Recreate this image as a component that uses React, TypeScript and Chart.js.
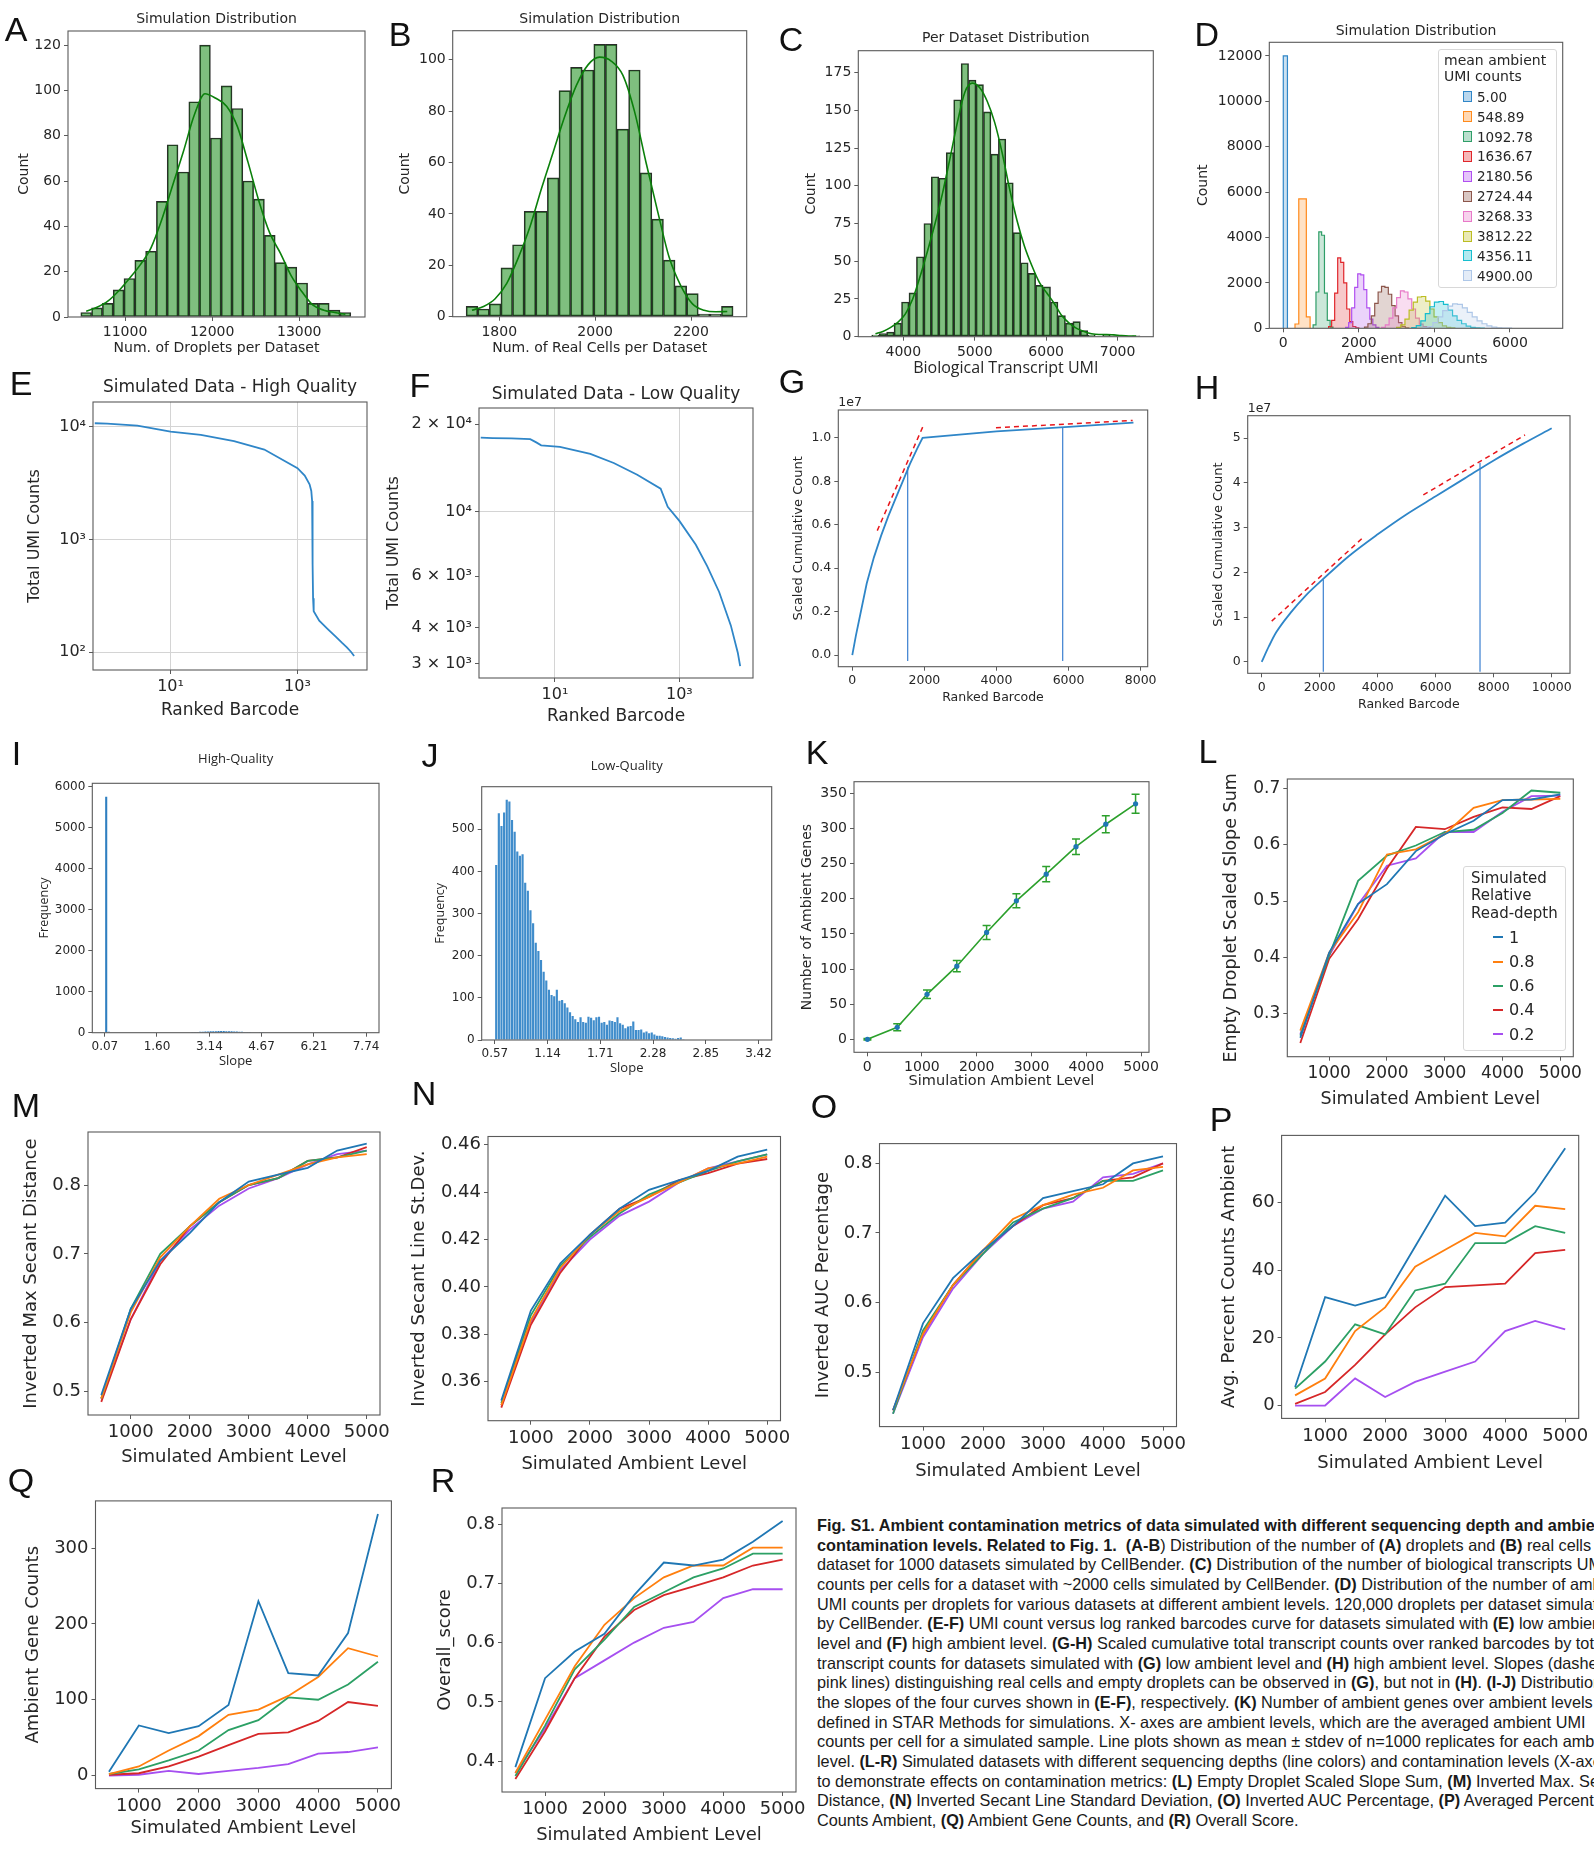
import React, { useEffect, useRef } from 'react';
import { Chart, registerables } from 'chart.js';

Chart.register(...registerables);

const DJ = "'DejaVu Sans', 'Liberation Sans', sans-serif";
const OS = "'Open Sans', 'DejaVu Sans', sans-serif";
const TEXT = '#262626';
const FRAME = '#5a5a5a';
Chart.defaults.font.family = DJ;
Chart.defaults.color = TEXT;

// ---------------- A ----------------
const aBinStart = 10492;
const aBinWidth = 124;
const aCounts = [2, 4, 6, 12, 17, 25, 29, 51, 76, 64, 95, 120, 79, 102, 92, 60, 52, 36, 24, 22, 15, 6, 6, 3, 2];
const aKde = [2.5, 4.3, 7, 11.5, 17, 23, 30.5, 43, 58, 73, 89, 98.5, 96.5, 93, 84, 68, 51, 37, 28, 18, 11, 5.2, 3, 2, 1.2];
const aXTicks = [11000, 12000, 13000];
const aYTicks = [0, 20, 40, 60, 80, 100, 120];

// ---------------- B ----------------
const bBinStart = 1731;
const bBinWidth = 24.2;
const bCounts = [4, 3, 5, 19, 28, 41, 41, 54, 88, 97, 96, 106, 106, 73, 96, 56, 38, 22, 12, 9, 1, 1, 4];
const bKde = [2.5, 4, 7, 13, 23, 35, 50, 64, 78, 90, 98, 101, 99.5, 94, 80, 60, 41, 23, 12, 5, 2.5, 1.9, 2];
const bXTicks = [1800, 2000, 2200];
const bYTicks = [0, 20, 40, 60, 80, 100];

// ---------------- C ----------------
const cBinStart = 3558;
const cBinWidth = 104.3;
const cCounts = [1, 2, 3, 9, 23, 29, 53, 75, 106, 105, 122, 157, 181, 170, 167, 149, 121, 131, 102, 69, 49, 42, 34, 33, 23, 14, 9, 10, 4, 1, 0, 1, 0.5, 0, 0, 0.5];
const cKde = [2, 3.5, 6, 9.5, 15, 25, 40, 57, 75, 95, 118, 142, 162, 168, 165, 156, 142, 122, 98, 77, 60, 47, 36, 29, 22, 14, 9, 5.5, 3.5, 2, 1.5, 1.5, 1.2, 0.8, 0.5, 0.4];
const cXTicks = [4000, 5000, 6000, 7000];
const cYTicks = [0, 25, 50, 75, 100, 125, 150, 175];

// ---------------- D ----------------
const dLevels = ['5.00', '548.89', '1092.78', '1636.67', '2180.56', '2724.44', '3268.33', '3812.22', '4356.11', '4900.00'];
const dColors = ['#2f86c8', '#ff8a1c', '#2f9e68', '#e0262b', '#b04ff0', '#8c564b', '#e879c8', '#bcbd22', '#17becf', '#aec7e8'];
const dBinStart = [0, 310, 790, 1200, 1650, 2150, 2600, 3000, 3400, 3700];
const dBinWidth = [110, 100, 75, 80, 80, 90, 100, 110, 120, 130];
const dCounts = [
  [12000],
  [190, 5700, 5700, 500],
  [150, 1600, 4250, 4100, 1550, 350, 50],
  [80, 350, 1550, 3100, 2900, 2000, 850, 300, 80, 20],
  [40, 250, 900, 1800, 2400, 2350, 1700, 900, 400, 150, 40],
  [50, 200, 550, 1100, 1600, 1850, 1800, 1500, 1000, 550, 250, 80, 20],
  [40, 150, 450, 900, 1350, 1650, 1600, 1300, 850, 450, 180, 70, 25],
  [40, 150, 400, 800, 1150, 1380, 1400, 1200, 850, 500, 250, 110, 45, 15],
  [30, 120, 330, 650, 950, 1150, 1180, 1050, 800, 550, 350, 200, 100, 45, 20, 8],
  [20, 80, 250, 500, 780, 980, 1080, 1050, 900, 700, 500, 330, 200, 110, 55, 25, 10, 4],
];
const dXTicks = [0, 2000, 4000, 6000];
const dYTicks = [0, 2000, 4000, 6000, 8000, 10000, 12000];

// ---------------- E ----------------
const eRank = [0.64, 1, 3, 10, 30, 100, 300, 1000, 1300, 1550, 1650, 1700, 1720, 1740, 1760, 1800, 2200, 3000, 4000, 5000, 6000, 7000, 7800];
const eUmi = [10800, 10700, 10300, 9100, 8500, 7500, 6300, 4300, 3700, 3100, 2700, 2200, 1400, 600, 300, 230, 190, 160, 137, 121, 110, 100, 92];
const eXTicks = [10, 1000];
const eYTicks = [100, 1000, 10000];

// ---------------- F ----------------
const fRank = [0.64, 1, 2, 4, 5, 6, 12, 37, 88, 210, 500, 650, 1000, 1840, 2800, 4360, 6720, 8700, 9500];
const fUmi = [17950, 17900, 17850, 17750, 17300, 16900, 16700, 15800, 14700, 13400, 12000, 10400, 9300, 7700, 6500, 5300, 4070, 3280, 2950];
const fXTicks = [10, 1000];
const fYTicks = [3000, 4000, 6000, 10000, 20000];

const supLabels: Record<number, string> = {
  10: '10\u00b9', 100: '10\u00b2', 1000: '10\u00b3', 10000: '10\u2074',
  3000: '3 \u00d7 10\u00b3', 4000: '4 \u00d7 10\u00b3', 6000: '6 \u00d7 10\u00b3', 20000: '2 \u00d7 10\u2074',
};

// ---------------- G ----------------
const gRank = [0, 100, 200, 400, 600, 800, 1000, 1200, 1400, 1600, 1800, 1950, 4000, 6000, 7800];
const gCum = [0, 0.09, 0.17, 0.33, 0.45, 0.55, 0.64, 0.72, 0.8, 0.88, 0.95, 1.0, 1.03, 1.05, 1.07];
const gCutX = [1537, 5837];
const gCutTop = [0.867, 1.05];
const gCutBottom = -0.027;
const gSlope1X = [693, 1989];
const gSlope1Y = [0.573, 1.063];
const gSlope2X = [3986, 7778];
const gSlope2Y = [1.046, 1.08];
const gXTicks = [0, 2000, 4000, 6000, 8000];
const gYTicks = [0, 0.2, 0.4, 0.6, 0.8, 1.0];

// ---------------- H ----------------
const hRank = [0, 250, 500, 1000, 1500, 2000, 3000, 4000, 5000, 6000, 7000, 8000, 9000, 10000];
const hCum = [0, 0.35, 0.66, 1.1, 1.47, 1.78, 2.36, 2.85, 3.3, 3.7, 4.1, 4.5, 4.87, 5.22];
const hCutX = [2124, 7528];
const hCutTop = [1.84, 4.45];
const hCutBottom = -0.22;
const hSlope1X = [345, 3448];
const hSlope1Y = [0.91, 2.75];
const hSlope2X = [5573, 9080];
const hSlope2Y = [3.73, 5.07];
const hXTicks = [0, 2000, 4000, 6000, 8000, 10000];
const hYTicks = [0, 1, 2, 3, 4, 5];

// ---------------- I ----------------
const iBinStart = 0.07;
const iBinWidth = 0.0767;
const iCounts = [
  5750, 25, 0, 0, 0, 0, 0, 0, 0, 0, 0, 0, 0, 0, 0, 0, 0, 0, 0, 0,
  0, 0, 0, 0, 0, 0, 0, 0, 0, 0, 8, 10, 12, 15, 18, 20, 22, 25, 28, 30,
  33, 35, 38, 40, 42, 40, 38, 35, 33, 30, 28, 25, 22, 20, 18, 15, 12, 10, 8, 6,
  4, 0, 0, 0, 0, 0, 0, 0, 0, 0, 0, 0, 0, 0, 0, 0, 0, 0, 0, 0,
  0, 0, 0, 0, 0, 0, 0, 0, 0, 0, 0, 0, 0, 0, 0, 0, 0, 0, 0, 0,
];
const iXTicks = [0.07, 1.6, 3.14, 4.67, 6.21, 7.74];
const iYTicks = [0, 1000, 2000, 3000, 4000, 5000, 6000];

// ---------------- J ----------------
const jBinStart = 0.57;
const jBinWidth = 0.0285;
const jCounts = [
  415, 538, 508, 540, 570, 566, 522, 494, 447, 437, 441, 373, 354, 308, 277, 231, 211, 190, 162, 141,
  119, 107, 104, 119, 93, 95, 87, 77, 66, 57, 49, 43, 54, 43, 41, 55, 53, 47, 54, 55,
  41, 43, 36, 46, 45, 43, 54, 40, 36, 28, 32, 33, 44, 24, 24, 25, 18, 20, 16, 18,
  13, 10, 10, 9, 7, 6, 5, 4, 3, 5, 6, 2, 1, 1, 1, 0, 1, 0, 0, 1,
  0, 0, 0, 0, 0, 0, 0, 0, 0, 0, 0, 0, 0, 0, 0, 0, 0, 0, 0, 0,
];
const jXTicks = [0.57, 1.14, 1.71, 2.28, 2.85, 3.42];
const jYTicks = [0, 100, 200, 300, 400, 500];

// ---------------- K ----------------
const kLevels = [5, 548.89, 1092.78, 1636.67, 2180.56, 2724.44, 3268.33, 3812.22, 4356.11, 4900];
const kMean = [0, 17, 64, 104, 152, 197, 235, 274, 306, 335];
const kSd = [1, 5, 6, 8, 10, 10, 11, 11, 12, 13.5];
const kXTicks = [0, 1000, 2000, 3000, 4000, 5000];
const kYTicks = [0, 50, 100, 150, 200, 250, 300, 350];

// ---------------- L-R ----------------
const depthLabels = ['1', '0.8', '0.6', '0.4', '0.2'];
const depthColors = ['#1f77b4', '#ff7f0e', '#2ca065', '#d62728', '#a64ff0'];
const ambientX = [500, 1000, 1500, 2000, 2500, 3000, 3500, 4000, 4500, 5000];
const depthXTicks = [1000, 2000, 3000, 4000, 5000];

const lSeries = [
  [0.256, 0.408, 0.495, 0.53, 0.589, 0.619, 0.643, 0.68, 0.681, 0.69],
  [0.269, 0.408, 0.48, 0.583, 0.592, 0.619, 0.666, 0.68, 0.681, 0.682],
  [0.26, 0.403, 0.536, 0.581, 0.599, 0.623, 0.627, 0.657, 0.697, 0.693],
  [0.247, 0.397, 0.468, 0.558, 0.632, 0.628, 0.65, 0.667, 0.664, 0.687],
  [0.263, 0.403, 0.494, 0.563, 0.576, 0.623, 0.623, 0.659, 0.687, 0.688],
];
const lYTicks = [0.3, 0.4, 0.5, 0.6, 0.7];

const mSeries = [
  [0.495, 0.62, 0.69, 0.73, 0.775, 0.805, 0.815, 0.825, 0.85, 0.86],
  [0.49, 0.615, 0.695, 0.74, 0.78, 0.8, 0.815, 0.83, 0.84, 0.845],
  [0.49, 0.62, 0.7, 0.74, 0.775, 0.8, 0.81, 0.835, 0.84, 0.85],
  [0.485, 0.605, 0.685, 0.74, 0.775, 0.8, 0.81, 0.835, 0.84, 0.855],
  [0.49, 0.605, 0.69, 0.735, 0.77, 0.795, 0.81, 0.83, 0.845, 0.85],
];
const mYTicks = [0.5, 0.6, 0.7, 0.8];

const nSeries = [
  [0.352, 0.39, 0.41, 0.422, 0.433, 0.441, 0.445, 0.449, 0.455, 0.458],
  [0.35, 0.386, 0.408, 0.422, 0.432, 0.438, 0.444, 0.45, 0.452, 0.455],
  [0.351, 0.388, 0.409, 0.421, 0.431, 0.439, 0.444, 0.449, 0.453, 0.456],
  [0.349, 0.384, 0.406, 0.422, 0.433, 0.438, 0.445, 0.448, 0.452, 0.454],
  [0.35, 0.385, 0.407, 0.42, 0.43, 0.436, 0.444, 0.45, 0.453, 0.456],
];
const nYTicks = [0.36, 0.38, 0.4, 0.42, 0.44, 0.46];

const oSeries = [
  [0.445, 0.57, 0.635, 0.675, 0.71, 0.75, 0.76, 0.77, 0.8, 0.81],
  [0.445, 0.555, 0.625, 0.675, 0.72, 0.74, 0.755, 0.765, 0.79, 0.795],
  [0.44, 0.56, 0.625, 0.67, 0.715, 0.735, 0.75, 0.775, 0.775, 0.79],
  [0.445, 0.555, 0.625, 0.675, 0.71, 0.74, 0.75, 0.775, 0.78, 0.8],
  [0.44, 0.55, 0.62, 0.67, 0.71, 0.735, 0.745, 0.78, 0.785, 0.8],
];
const oYTicks = [0.5, 0.6, 0.7, 0.8];

const pSeries = [
  [5.5, 32, 29.5, 32, 47, 62, 53, 54, 63, 76],
  [3, 8, 22, 29, 41, 46, 51, 50, 59, 58],
  [5, 13, 24, 21, 34, 36, 48, 48, 53, 51],
  [0.5, 4, 12, 21, 29, 35, 35.5, 36, 45, 46],
  [0, 0, 8, 2.5, 7, 10, 13, 22, 25, 22.5],
];
const pYTicks = [0, 20, 40, 60];

const qSeries = [
  [5, 66, 56, 65, 93, 230, 135, 132, 188, 345],
  [2, 12, 33, 52, 80, 87, 105, 130, 168, 157],
  [2, 8, 20, 33, 60, 73, 103, 100, 120, 150],
  [1, 3, 12, 25, 40, 55, 57, 72, 97, 92],
  [0, 1, 6, 2, 6, 10, 15, 29, 31, 37],
];
const qYTicks = [0, 100, 200, 300];

const rSeries = [
  [0.39, 0.54, 0.585, 0.615, 0.68, 0.735, 0.73, 0.74, 0.77, 0.805],
  [0.38, 0.47, 0.56, 0.63, 0.675, 0.71, 0.73, 0.73, 0.76, 0.76],
  [0.375, 0.46, 0.555, 0.605, 0.66, 0.685, 0.71, 0.725, 0.75, 0.75],
  [0.37, 0.45, 0.54, 0.61, 0.655, 0.68, 0.695, 0.71, 0.73, 0.74],
  [0.38, 0.455, 0.54, 0.57, 0.6, 0.625, 0.635, 0.675, 0.69, 0.69],
];
const rYTicks = [0.4, 0.5, 0.6, 0.7, 0.8];

// ---------------- dataset helpers ----------------
const HIST_FILL = 'rgba(0,128,0,0.5)';
const HIST_EDGE = '#2b2b2b';

function histBars(start: number, width: number, counts: number[], color: string, edge: string, edgeW: number, barPct = 1) {
  return {
    type: 'bar', order: 2,
    data: counts.map((c, i) => ({ x: start + width * (i + 0.5), y: c })),
    backgroundColor: color, borderColor: edge, borderWidth: edgeW, borderSkipped: false,
    barPercentage: barPct, categoryPercentage: 1, grouped: false,
  };
}
function kdeLine(start: number, width: number, vals: number[]) {
  return {
    type: 'line', order: 0,
    data: vals.map((v, i) => ({ x: start + width * (i + 0.5), y: v })),
    borderColor: '#0b800b', borderWidth: 1.6, pointRadius: 0, cubicInterpolationMode: 'monotone', fill: false,
  };
}
function xyLine(xs: number[], ys: number[], color: string, width: number, extra: any = {}) {
  return {
    type: 'line', order: 1,
    data: xs.map((x, i) => ({ x, y: ys[i] })),
    borderColor: color, borderWidth: width, pointRadius: 0, fill: false, tension: 0, ...extra,
  };
}
function stepHist(start: number, width: number, counts: number[], color: string) {
  const pts: { x: number; y: number }[] = [{ x: start, y: 0 }];
  counts.forEach((c, i) => pts.push({ x: start + width * i, y: c }));
  pts.push({ x: start + width * counts.length, y: 0 });
  return {
    type: 'line', data: pts, stepped: 'before', borderColor: color, borderWidth: 1.2,
    backgroundColor: color + '40', fill: 'origin', pointRadius: 0,
  };
}

// ---------------- plugins ----------------
const framePlugin = {
  id: 'frame',
  afterDatasetsDraw(chart: any) {
    const { ctx, chartArea: a } = chart;
    ctx.save();
    ctx.strokeStyle = FRAME;
    ctx.lineWidth = 1.1;
    ctx.strokeRect(a.left, a.top, a.right - a.left, a.bottom - a.top);
    ctx.restore();
  },
};
const panelTitlePlugin = {
  id: 'panelTitle',
  afterDraw(chart: any, _args: any, opts: any) {
    if (!opts || !opts.text) return;
    const { ctx, chartArea: a } = chart;
    ctx.save();
    ctx.fillStyle = TEXT;
    ctx.font = `${opts.size}px ${opts.family || DJ}`;
    ctx.textAlign = 'center';
    ctx.textBaseline = 'middle';
    ctx.fillText(opts.text, (a.left + a.right) / 2, opts.cy);
    ctx.restore();
  },
};
const offsetTextPlugin = {
  id: 'offsetText',
  afterDraw(chart: any, _args: any, opts: any) {
    if (!opts || !opts.text) return;
    const { ctx, chartArea: a } = chart;
    ctx.save();
    ctx.fillStyle = TEXT;
    ctx.font = `12.5px ${DJ}`;
    ctx.textAlign = 'left';
    ctx.textBaseline = 'bottom';
    ctx.fillText(opts.text, a.left, a.top - 1);
    ctx.restore();
  },
};
const errorBarPlugin = {
  id: 'errbars',
  beforeDatasetsDraw(chart: any, _args: any, opts: any) {
    if (!opts || !opts.xs) return;
    const { ctx, scales } = chart;
    const xs = scales.x, ys = scales.y;
    ctx.save();
    ctx.strokeStyle = opts.color;
    ctx.lineWidth = 1.5;
    opts.xs.forEach((xv: number, i: number) => {
      const px = xs.getPixelForValue(xv);
      const t = ys.getPixelForValue(opts.means[i] + opts.sds[i]);
      const b = ys.getPixelForValue(opts.means[i] - opts.sds[i]);
      ctx.beginPath();
      ctx.moveTo(px, t); ctx.lineTo(px, b);
      ctx.moveTo(px - 4, t); ctx.lineTo(px + 4, t);
      ctx.moveTo(px - 4, b); ctx.lineTo(px + 4, b);
      ctx.stroke();
    });
    ctx.restore();
  },
};

// ---------------- panel specification ----------------
type Axis = {
  type?: string; min: number; max: number; ticks: number[];
  fmt?: (v: number) => string; size: number; family?: string;
  title: string; titlePos: number; titleSize: number; titleFamily?: string;
  grid?: boolean; gridColor?: any;
};
type Spec = {
  key: string; kind: string; box: number[]; x: Axis; y: Axis;
  title?: { text: string; y: number; size: number; family?: string };
  topPad?: number; rightPad?: number; datasets: any[]; plugins?: any[]; pluginOpts?: any;
};

function geometry(s: Spec) {
  const [x0, y0, x1, y1] = s.box;
  const left = Math.floor(s.y.titlePos - s.y.titleSize * 0.6 - 3);
  const bottom = Math.ceil(s.x.titlePos + s.x.titleSize * 0.6 + 3);
  const top = Math.floor(s.title ? s.title.y - s.title.size * 0.6 - 4 : y0 - (s.topPad ?? 14));
  const right = Math.min(1594, Math.ceil(x1 + (s.rightPad ?? 30)));
  return { left, top, bottom, right, W: right - left, H: bottom - top, padTop: y0 - top, padRight: right - x1, yAxisW: x0 - left, xAxisH: bottom - y1 };
}

function makeConfig(s: Spec) {
  const g = geometry(s);
  const scale = (a: Axis, isX: boolean) => {
    const lh = a.titleSize * 1.2;
    return {
      type: a.type || 'linear', min: a.min, max: a.max, offset: false,
      afterBuildTicks: (ax: any) => { ax.ticks = a.ticks.map((v) => ({ value: v })); },
      afterFit: (ax: any) => { if (isX) ax.height = g.xAxisH; else ax.width = g.yAxisW; },
      ticks: {
        autoSkip: false, maxRotation: 0, minRotation: 0, padding: 3, color: TEXT,
        font: { size: a.size, family: a.family || DJ },
        callback: (v: any) => (a.fmt ? a.fmt(Number(v)) : String(v)),
      },
      grid: { display: true, drawOnChartArea: !!a.grid, color: a.gridColor || '#d4d4d4', tickColor: FRAME, tickLength: 4, offset: false },
      border: { display: false },
      title: {
        display: true, text: a.title, color: TEXT,
        font: { size: a.titleSize, family: a.titleFamily || DJ, lineHeight: 1.2 },
        padding: isX ? { top: 0, bottom: g.bottom - a.titlePos - lh / 2 } : { top: a.titlePos - g.left - lh / 2, bottom: 0 },
      },
    };
  };
  return {
    type: s.kind,
    data: { datasets: s.datasets },
    options: {
      responsive: false, animation: false, events: [],
      layout: { padding: { top: g.padTop, right: g.padRight, left: 0, bottom: 0 } },
      plugins: {
        legend: { display: false }, tooltip: { enabled: false },
        panelTitle: s.title ? { ...s.title, cy: s.title.y - g.top } : {},
        ...(s.pluginOpts || {}),
      },
      scales: { x: scale(s.x, true), y: scale(s.y, false) },
    },
    plugins: [framePlugin, panelTitlePlugin, ...(s.plugins || [])],
  };
}

function ChartPanel({ spec }: { spec: Spec }) {
  const ref = useRef<HTMLCanvasElement | null>(null);
  const g = geometry(spec);
  useEffect(() => {
    const chart = new Chart(ref.current as any, makeConfig(spec) as any);
    return () => chart.destroy();
  }, []);
  return (
    <canvas ref={ref} width={g.W} height={g.H}
      style={{ position: 'absolute', left: g.left, top: g.top, width: g.W, height: g.H }} />
  );
}

const f1 = (v: number) => v.toFixed(1);
const f2 = (v: number) => v.toFixed(2);
const sup = (v: number) => supLabels[v] ?? String(v);

function depthPanel(key: string, box: number[], yMin: number, yMax: number, yTicks: number[], fmt: any,
  yTitle: string, yTitlePos: number, xTitlePos: number, series: number[][], tick = 18, ttl = 18, rightPad = 26): Spec {
  return {
    key, kind: 'line', box,
    x: { min: 275, max: 5225, ticks: depthXTicks, size: tick, title: 'Simulated Ambient Level', titlePos: xTitlePos, titleSize: ttl },
    y: { min: yMin, max: yMax, ticks: yTicks, fmt, size: tick, title: yTitle, titlePos: yTitlePos, titleSize: ttl },
    rightPad,
    datasets: series.map((ys, i) => xyLine(ambientX, ys, depthColors[i], 1.8)),
  };
}

const specs: Spec[] = [
  {
    key: 'A', kind: 'bar', box: [68, 31, 365, 317],
    x: { min: 10345, max: 13755, ticks: aXTicks, size: 14, title: 'Num. of Droplets per Dataset', titlePos: 348, titleSize: 14 },
    y: { min: 0, max: 126.2, ticks: aYTicks, size: 14, title: 'Count', titlePos: 24, titleSize: 14 },
    title: { text: 'Simulation Distribution', y: 19, size: 14 },
    datasets: [kdeLine(aBinStart, aBinWidth, aKde), histBars(aBinStart, aBinWidth, aCounts, HIST_FILL, HIST_EDGE, 1)],
  },
  {
    key: 'B', kind: 'bar', box: [452.7, 30.7, 746.7, 316.7],
    x: { min: 1703, max: 2316, ticks: bXTicks, size: 14, title: 'Num. of Real Cells per Dataset', titlePos: 348, titleSize: 14 },
    y: { min: 0, max: 111.3, ticks: bYTicks, size: 14, title: 'Count', titlePos: 405, titleSize: 14 },
    title: { text: 'Simulation Distribution', y: 19, size: 14 },
    datasets: [kdeLine(bBinStart, bBinWidth, bKde), histBars(bBinStart, bBinWidth, bCounts, HIST_FILL, HIST_EDGE, 1)],
  },
  {
    key: 'C', kind: 'bar', box: [858.3, 50.7, 1153.3, 336.7],
    x: { min: 3370, max: 7500, ticks: cXTicks, size: 14, title: 'Biological Transcript UMI', titlePos: 368, titleSize: 16, titleFamily: OS },
    y: { min: 0, max: 189.5, ticks: cYTicks, size: 14, title: 'Count', titlePos: 811.7, titleSize: 14 },
    title: { text: 'Per Dataset Distribution', y: 38.7, size: 14 },
    datasets: [kdeLine(cBinStart, cBinWidth, cKde), histBars(cBinStart, cBinWidth, cCounts, HIST_FILL, HIST_EDGE, 1)],
  },
  {
    key: 'D', kind: 'line', box: [1269.3, 42.3, 1562.7, 328.3],
    x: { min: -370, max: 7395, ticks: dXTicks, size: 14, title: 'Ambient UMI Counts', titlePos: 359.3, titleSize: 14 },
    y: { min: 0, max: 12600, ticks: dYTicks, size: 14, title: 'Count', titlePos: 1203.3, titleSize: 14 },
    title: { text: 'Simulation Distribution', y: 31.7, size: 14 },
    rightPad: 28,
    datasets: dCounts.map((c, i) => stepHist(dBinStart[i], dBinWidth[i], c, dColors[i])).reverse(),
  },
  {
    key: 'E', kind: 'line', box: [93, 402, 367, 670],
    x: { type: 'logarithmic', min: 0.638, max: 12450, ticks: eXTicks, fmt: sup, size: 16, title: 'Ranked Barcode', titlePos: 711, titleSize: 17, grid: true },
    y: { type: 'logarithmic', min: 69.2, max: 16680, ticks: eYTicks, fmt: sup, size: 16, title: 'Total UMI Counts', titlePos: 35, titleSize: 16, grid: true },
    title: { text: 'Simulated Data - High Quality', y: 388, size: 17 },
    datasets: [xyLine(eRank, eUmi, '#2f86c8', 1.8)],
  },
  {
    key: 'F', kind: 'line', box: [479, 408, 753, 678],
    x: { type: 'logarithmic', min: 0.631, max: 15280, ticks: fXTicks, fmt: sup, size: 16, title: 'Ranked Barcode', titlePos: 717, titleSize: 17, grid: true },
    y: {
      type: 'logarithmic', min: 2685, max: 22700, ticks: fYTicks, fmt: sup, size: 16, title: 'Total UMI Counts', titlePos: 394, titleSize: 16, grid: true,
      gridColor: (ctx: any) => (ctx.tick && ctx.tick.value === 10000 ? '#d4d4d4' : 'rgba(0,0,0,0)'),
    },
    title: { text: 'Simulated Data - Low Quality', y: 395, size: 17 },
    datasets: [xyLine(fRank, fUmi, '#2f86c8', 1.8)],
  },
  {
    key: 'G', kind: 'line', box: [838.3, 410, 1147.7, 666.7],
    x: { min: -388, max: 8195, ticks: gXTicks, size: 12.5, title: 'Ranked Barcode', titlePos: 697.3, titleSize: 12.5 },
    y: { min: -0.053, max: 1.128, ticks: gYTicks, fmt: f1, size: 12.5, title: 'Scaled Cumulative Count', titlePos: 798.3, titleSize: 13 },
    topPad: 17,
    plugins: [offsetTextPlugin], pluginOpts: { offsetText: { text: '1e7' } },
    datasets: [
      xyLine(gRank, gCum, '#2f86c8', 1.8),
      xyLine([gCutX[0], gCutX[0]], [gCutBottom, gCutTop[0]], '#3a7fd0', 1.2),
      xyLine([gCutX[1], gCutX[1]], [gCutBottom, gCutTop[1]], '#3a7fd0', 1.2),
      xyLine(gSlope1X, gSlope1Y, '#e8161b', 1.5, { borderDash: [5, 4] }),
      xyLine(gSlope2X, gSlope2Y, '#e8161b', 1.5, { borderDash: [5, 4] }),
    ],
  },
  {
    key: 'H', kind: 'line', box: [1247.7, 415.7, 1570, 673.3],
    x: { min: -483, max: 10631, ticks: hXTicks, size: 12.5, title: 'Ranked Barcode', titlePos: 705, titleSize: 12.5 },
    y: { min: -0.255, max: 5.5, ticks: hYTicks, size: 12.5, title: 'Scaled Cumulative Count', titlePos: 1218.3, titleSize: 13 },
    topPad: 17, rightPad: 23,
    plugins: [offsetTextPlugin], pluginOpts: { offsetText: { text: '1e7' } },
    datasets: [
      xyLine(hRank, hCum, '#2f86c8', 1.8, { cubicInterpolationMode: 'monotone' }),
      xyLine([hCutX[0], hCutX[0]], [hCutBottom, hCutTop[0]], '#3a7fd0', 1.2),
      xyLine([hCutX[1], hCutX[1]], [hCutBottom, hCutTop[1]], '#3a7fd0', 1.2),
      xyLine(hSlope1X, hSlope1Y, '#e8161b', 1.5, { borderDash: [5, 4] }),
      xyLine(hSlope2X, hSlope2Y, '#e8161b', 1.5, { borderDash: [5, 4] }),
    ],
  },
  {
    key: 'I', kind: 'bar', box: [92.3, 783.3, 379, 1032.7],
    x: { min: -0.3, max: 8.12, ticks: iXTicks, fmt: f2, size: 12, title: 'Slope', titlePos: 1061.7, titleSize: 13, titleFamily: OS },
    y: { min: 0, max: 6080, ticks: iYTicks, size: 12, title: 'Frequency', titlePos: 44.3, titleSize: 12.5, titleFamily: OS },
    title: { text: 'High-Quality', y: 759.3, size: 13, family: OS },
    datasets: [histBars(iBinStart, iBinWidth, iCounts, '#2f7fc0', '#2f7fc0', 0, 0.8)],
  },
  {
    key: 'J', kind: 'bar', box: [481.7, 786.7, 771.7, 1040],
    x: { min: 0.4275, max: 3.5625, ticks: jXTicks, fmt: f2, size: 12, title: 'Slope', titlePos: 1068.3, titleSize: 13, titleFamily: OS },
    y: { min: 0, max: 601, ticks: jYTicks, size: 12, title: 'Frequency', titlePos: 440.7, titleSize: 12.5, titleFamily: OS },
    title: { text: 'Low-Quality', y: 766, size: 13, family: OS },
    datasets: [histBars(jBinStart, jBinWidth, jCounts, '#3f8ccb', '#3f8ccb', 0, 0.82)],
  },
  {
    key: 'K', kind: 'line', box: [854, 781.7, 1149, 1052.3],
    x: { min: -240, max: 5145, ticks: kXTicks, size: 14, title: 'Simulation Ambient Level', titlePos: 1081, titleSize: 14.5 },
    y: { min: -18.5, max: 366.5, ticks: kYTicks, size: 14, title: 'Number of Ambient Genes', titlePos: 807.3, titleSize: 14 },
    plugins: [errorBarPlugin], pluginOpts: { errbars: { xs: kLevels, means: kMean, sds: kSd, color: '#2ca02c' } },
    datasets: [xyLine(kLevels, kMean, '#2ca02c', 1.6, { pointRadius: 2.6, pointBackgroundColor: '#1f77b4', pointBorderColor: '#1f77b4', pointBorderWidth: 0 })],
  },
  depthPanel('L', [1287.3, 779, 1573.3, 1056.7], 0.2225, 0.7175, lYTicks, f1, 'Empty Droplet Scaled Slope Sum', 1231.7, 1099.3, lSeries, 17, 17.5, 20),
  depthPanel('M', [88, 1132, 380, 1415], 0.466, 0.877, mYTicks, f1, 'Inverted Max Secant Distance', 31.8, 1457, mSeries),
  depthPanel('N', [488, 1136.5, 780.5, 1420.7], 0.3435, 0.4635, nYTicks, f2, 'Inverted Secant Line St.Dev.', 419.7, 1464, nSeries),
  depthPanel('O', [879.5, 1143.6, 1176.5, 1426.6], 0.4215, 0.8285, oYTicks, f1, 'Inverted AUC Percentage', 823, 1471, oSeries),
  depthPanel('P', [1281.6, 1135.4, 1578.7, 1418.4], -3.8, 79.8, pYTicks, undefined, 'Avg. Percent Counts Ambient', 1229.7, 1463, pSeries, 18, 18, 15),
  depthPanel('Q', [95.5, 1500.9, 391.4, 1788.6], -17.25, 362.25, qYTicks, undefined, 'Ambient Gene Counts', 33, 1828.6, qSeries),
  depthPanel('R', [502, 1508, 796, 1792], 0.348, 0.827, rYTicks, f1, 'Overall_score', 445.7, 1835.7, rSeries, 18, 18, 20),
];

const panelLetters = [
  { t: 'A', x: 16, y: 29 }, { t: 'B', x: 400, y: 34 }, { t: 'C', x: 791, y: 39 }, { t: 'D', x: 1206.7, y: 34 },
  { t: 'E', x: 21, y: 383 }, { t: 'F', x: 420, y: 385 }, { t: 'G', x: 792, y: 381 }, { t: 'H', x: 1207, y: 387 },
  { t: 'I', x: 16.5, y: 753 }, { t: 'J', x: 430, y: 755 }, { t: 'K', x: 817, y: 752 }, { t: 'L', x: 1208, y: 751 },
  { t: 'M', x: 26, y: 1105 }, { t: 'N', x: 424, y: 1093 }, { t: 'O', x: 824, y: 1106 }, { t: 'P', x: 1221, y: 1119 },
  { t: 'Q', x: 21, y: 1480 }, { t: 'R', x: 443, y: 1480 },
];

const captionLines: React.ReactNode[] = [
  <><b>Fig. S1. Ambient contamination metrics of data simulated with different sequencing depth and ambient</b></>,
  <><b>contamination levels. Related to Fig. 1.</b>&nbsp; <b>(A-B</b>) Distribution of the number of <b>(A)</b> droplets and <b>(B)</b> real cells per</>,
  <>dataset for 1000 datasets simulated by CellBender. <b>(C)</b> Distribution of the number of biological transcripts UMI</>,
  <>counts per cells for a dataset with ~2000 cells simulated by CellBender. <b>(D)</b> Distribution of the number of ambient</>,
  <>UMI counts per droplets for various datasets at different ambient levels. 120,000 droplets per dataset simulated</>,
  <>by CellBender. <b>(E-F)</b> UMI count versus log ranked barcodes curve for datasets simulated with <b>(E)</b> low ambient</>,
  <>level and <b>(F)</b> high ambient level. <b>(G-H)</b> Scaled cumulative total transcript counts over ranked barcodes by total</>,
  <>transcript counts for datasets simulated with <b>(G)</b> low ambient level and <b>(H)</b> high ambient level. Slopes (dashed</>,
  <>pink lines) distinguishing real cells and empty droplets can be observed in <b>(G)</b>, but not in <b>(H)</b>. <b>(I-J)</b> Distribution of</>,
  <>the slopes of the four curves shown in <b>(E-F)</b>, respectively. <b>(K)</b> Number of ambient genes over ambient levels as</>,
  <>defined in STAR Methods for simulations. X- axes are ambient levels, which are the averaged ambient UMI</>,
  <>counts per cell for a simulated sample. Line plots shown as mean ± stdev of n=1000 replicates for each ambient</>,
  <>level. <b>(L-R)</b> Simulated datasets with different sequencing depths (line colors) and contamination levels (X-axes)</>,
  <>to demonstrate effects on contamination metrics: <b>(L)</b> Empty Droplet Scaled Slope Sum, <b>(M)</b> Inverted Max. Secant</>,
  <>Distance, <b>(N)</b> Inverted Secant Line Standard Deviation, <b>(O)</b> Inverted AUC Percentage, <b>(P)</b> Averaged Percent</>,
  <>Counts Ambient, <b>(Q)</b> Ambient Gene Counts, and <b>(R)</b> Overall Score.</>,
];

function LegendD() {
  return (
    <>
      <div style={{ position: 'absolute', left: 1438, top: 49, width: 117, height: 237, border: '1px solid #d8d8d8', borderRadius: 3, background: 'rgba(255,255,255,0.85)' }} />
      <div style={{ position: 'absolute', left: 1444, top: 53, font: `14px ${DJ}`, lineHeight: '15.7px', color: TEXT, whiteSpace: 'nowrap' }}>
        mean ambient<br />UMI counts
      </div>
      {dLevels.map((lv, i) => (
        <div key={lv} style={{ position: 'absolute', left: 1463, top: 96.7 + 19.9 * i - 9, height: 18, display: 'flex', alignItems: 'center', whiteSpace: 'nowrap' }}>
          <span style={{ display: 'inline-block', width: 7, height: 9, border: `1px solid ${dColors[i]}`, background: dColors[i] + '55', marginRight: 5 }} />
          <span style={{ font: `13.5px ${DJ}`, color: TEXT }}>{lv}</span>
        </div>
      ))}
    </>
  );
}

function LegendL() {
  return (
    <>
      <div style={{ position: 'absolute', left: 1463, top: 866, width: 101, height: 183, border: '1px solid #d8d8d8', borderRadius: 3, background: 'rgba(255,255,255,0.85)' }} />
      <div style={{ position: 'absolute', left: 1471, top: 869.5, font: `15px ${DJ}`, lineHeight: '17.5px', color: TEXT, whiteSpace: 'nowrap' }}>
        Simulated<br />Relative<br />Read-depth
      </div>
      {depthLabels.map((lb, i) => (
        <div key={lb} style={{ position: 'absolute', left: 1493, top: 937.3 + 24.2 * i - 10, height: 20, display: 'flex', alignItems: 'center', whiteSpace: 'nowrap' }}>
          <span style={{ display: 'inline-block', width: 10, height: 2, background: depthColors[i], marginRight: 6 }} />
          <span style={{ font: `16px ${DJ}`, color: TEXT }}>{lb}</span>
        </div>
      ))}
    </>
  );
}

export default function App() {
  return (
    <div style={{ position: 'absolute', left: 0, top: 0, width: 1594, height: 1849, background: '#ffffff', overflow: 'hidden' }}>
      {specs.map((s) => <ChartPanel key={s.key} spec={s} />)}
      <LegendD />
      <LegendL />
      {panelLetters.map((p) => (
        <div key={p.t} style={{ position: 'absolute', left: p.x, top: p.y, transform: 'translate(-50%, -50%)', font: `34px 'Liberation Sans', Arial, sans-serif`, color: '#111', lineHeight: '34px' }}>
          {p.t}
        </div>
      ))}
      <div style={{ position: 'absolute', left: 817, top: 1516, width: 777, height: 320, overflow: 'hidden' }}>
        <div style={{ transform: 'scaleX(0.985)', transformOrigin: 'left top', font: `16.5px 'Liberation Sans', Arial, sans-serif`, lineHeight: '19.67px', color: '#1a1a1a', whiteSpace: 'nowrap', width: 1000 }}>
          {captionLines.map((l, i) => <div key={i}>{l}</div>)}
        </div>
      </div>
    </div>
  );
}
